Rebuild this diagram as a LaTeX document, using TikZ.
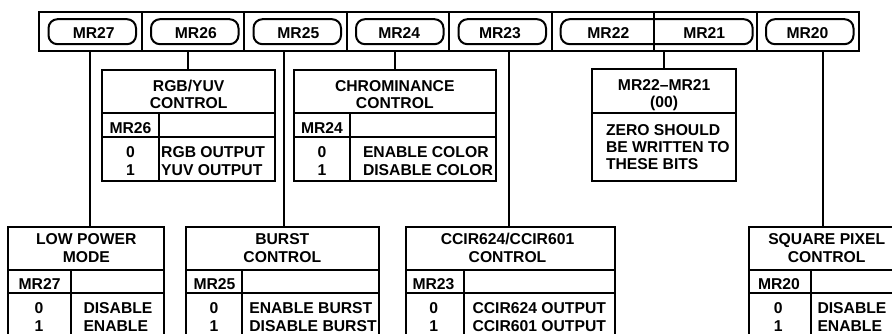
\documentclass[tikz,border=0pt]{standalone}
\usepackage{fontspec}
\setmainfont{Liberation Sans}
\begin{document}
\begin{tikzpicture}[x=1pt,y=-1pt,line width=2pt,
  txt/.style={font=\bfseries\fontsize{15.7}{18}\selectfont,inner sep=0pt},
  lt/.style={txt,anchor=base west},
  ct/.style={txt,anchor=base},
  pill/.style={draw,rounded corners=9pt,minimum height=25pt,inner sep=0pt,anchor=west},
  tbl/.style={draw,anchor=north west,inner sep=0pt,outer sep=0pt}]
\clip (0,0) rectangle (892,334);
% register bar
\node[tbl,minimum width=820pt,minimum height=39pt] (bar) at (39,11.7) {};
\foreach \x in {141.5,244,346.5,449,551.5,654,756.5}
  \draw (\x,11.7) -- (\x,50.7);
% pills
\node[pill,minimum width=87.5pt] (p27) at (47.5,31.7) {};
\node[pill,minimum width=87.5pt] (p26) at (150,31.7) {};
\node[pill,minimum width=87.5pt] (p25) at (252.5,31.7) {};
\node[pill,minimum width=87.5pt] (p24) at (355,31.7) {};
\node[pill,minimum width=87.5pt] (p23) at (457.5,31.7) {};
\node[pill,minimum width=192pt] (p2221) at (559.7,31.7) {};
\node[pill,minimum width=87.5pt] (p20) at (765,31.7) {};
\draw (654,11.7) -- (654,50.7);
\node[ct] (l27) at (93.7,38.3) {MR27};
\node[ct] (l26) at (195.8,38.3) {MR26};
\node[ct] (l25) at (298.3,38.3) {MR25};
\node[ct] (l24) at (399.2,38.3) {MR24};
\node[ct] (l23) at (500,38.3) {MR23};
\node[ct] (l22) at (608.3,38.3) {MR22};
\node[ct] (l21) at (704.2,38.3) {MR21};
\node[ct] (l20) at (807.5,38.3) {MR20};
% connector start points on the bar bottom
\coordinate (c27) at (89.5,50.7);
\coordinate (c26) at (187.7,50.7);
\coordinate (c25) at (284.3,50.7);
\coordinate (c24) at (395,50.7);
\coordinate (c23) at (509.4,50.7);
\coordinate (c2221) at (664.3,50.7);
\coordinate (c20) at (822.5,50.7);

% ---- upper tables ----
\node[tbl,minimum width=172.7pt,minimum height=111pt] (t26) at (102.3,70.5) {};
\draw (102.3,112.7) -- (275,112.7) (102.3,136.7) -- (275,136.7) (158.7,112.7) -- (158.7,181.5);
\node[ct] at (188.7,92) {RGB/YUV};
\node[ct] at (188.7,108.3) {CONTROL};
\node[ct] at (130.5,133.7) {MR26};
\node[ct] at (130.5,157.3) {0};
\node[ct] at (130.5,175.7) {1};
\node[lt] at (160.2,157.3) {RGB OUTPUT};
\node[lt] at (160.2,175.7) {YUV OUTPUT};

\node[tbl,minimum width=201.7pt,minimum height=111pt] (t24) at (294,70.5) {};
\draw (294,112.7) -- (495.7,112.7) (294,136.7) -- (495.7,136.7) (350,112.7) -- (350,181.5);
\node[ct] at (394.8,92) {CHROMINANCE};
\node[ct] at (394.8,108.3) {CONTROL};
\node[ct] at (322,133.7) {MR24};
\node[ct] at (322,157.3) {0};
\node[ct] at (322,175.7) {1};
\node[lt] at (362,157.3) {ENABLE COLOR};
\node[lt] at (362,175.7) {DISABLE COLOR};

\node[tbl,minimum width=143.7pt,minimum height=111.5pt] (t2221) at (592.3,69.5) {};
\draw (592.3,113.3) -- (736,113.3);
\node[ct] at (664.2,90.7) {MR22\textendash MR21};
\node[ct] at (664.2,107.3) {(00)};
\node[lt] at (605,136) {ZERO SHOULD};
\node[lt] at (605,152.7) {BE WRITTEN TO};
\node[lt] at (605,169.3) {THESE BITS};

% ---- lower tables ----
\node[tbl,minimum width=156pt,minimum height=120pt] (t27) at (8.3,227.3) {};
\draw (8.3,269.5) -- (164.3,269.5) (8.3,292.7) -- (164.3,292.7) (71,269.5) -- (71,347.3);
\node[ct] at (86.3,244.3) {LOW POWER};
\node[ct] at (86.3,262.7) {MODE};
\node[ct] at (39.6,289) {MR27};
\node[ct] at (39,313.3) {0};
\node[ct] at (39,331.7) {1};
\node[lt] at (82.5,313.3) {DISABLE};
\node[lt] at (82.5,331.7) {ENABLE};

\node[tbl,minimum width=193.3pt,minimum height=120pt] (t25) at (185.7,227.3) {};
\draw (185.7,269.5) -- (379,269.5) (185.7,292.7) -- (379,292.7) (242.3,269.5) -- (242.3,347.3);
\node[ct] at (282.3,244.3) {BURST};
\node[ct] at (282.3,262.7) {CONTROL};
\node[ct] at (214.5,289) {MR25};
\node[ct] at (214,313.3) {0};
\node[ct] at (214,331.7) {1};
\node[lt] at (248.3,313.3) {ENABLE BURST};
\node[lt] at (248.3,331.7) {DISABLE BURST};

\node[tbl,minimum width=209pt,minimum height=120pt] (t23) at (405.5,227.3) {};
\draw (405.5,269.5) -- (614.5,269.5) (405.5,292.7) -- (614.5,292.7) (464,269.5) -- (464,347.3);
\node[ct] at (507.5,244.3) {CCIR624/CCIR601};
\node[ct] at (507.5,262.7) {CONTROL};
\node[ct] at (433.5,289) {MR23};
\node[ct] at (433.8,313.3) {0};
\node[ct] at (433.8,331.7) {1};
\node[lt] at (471.5,313.3) {CCIR624 OUTPUT};
\node[lt] at (471.5,331.7) {CCIR601 OUTPUT};

\node[tbl,minimum width=160pt,minimum height=120pt] (t20) at (749,227.3) {};
\draw (749,269.5) -- (909,269.5) (749,292.7) -- (909,292.7) (811,269.5) -- (811,347.3);
\node[ct] at (826.7,244.3) {SQUARE PIXEL};
\node[ct] at (826.7,262.7) {CONTROL};
\node[ct] at (779,289) {MR20};
\node[ct] at (778.3,313.3) {0};
\node[ct] at (778.3,331.7) {1};
\node[lt] at (816.5,313.3) {DISABLE};
\node[lt] at (816.5,331.7) {ENABLE};

% ---- connectors ----
\draw (c27) -- (c27 |- t27.north);
\draw (c26) -- (c26 |- t26.north);
\draw (c25) -- (c25 |- t25.north);
\draw (c24) -- (c24 |- t24.north);
\draw (c23) -- (c23 |- t23.north);
\draw (c2221) -- (c2221 |- t2221.north);
\draw (c20) -- (c20 |- t20.north);
\end{tikzpicture}
\end{document}
